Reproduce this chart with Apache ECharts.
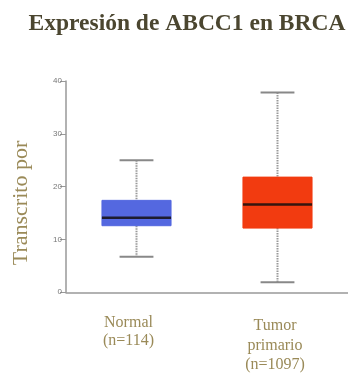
<!DOCTYPE html>
<html>
<head>
<meta charset="utf-8">
<script src="https://cdn.jsdelivr.net/npm/echarts@6/dist/echarts.min.js"></script>
<style>html,body{margin:0;padding:0;background:#fff}#c{width:348px;height:373px}</style>
</head>
<body>
<div id="c"></div>
<script>
var categories = ['Normal\n(n=114)', 'Tumor\nprimario\n(n=1097)'];
var whiskerLow = [6.7, 1.9];
var q1 = [12.6, 12.15];
var median = [14.1, 16.6];
var q3 = [17.4, 21.8];
var whiskerHigh = [25.0, 37.8];
var boxColors = ['#5468e0', '#f23b10'];
var yTicks = [0, 10, 20, 30, 40];

var data = categories.map(function (c, i) {
  return [i, whiskerLow[i], q1[i], median[i], q3[i], whiskerHigh[i]];
});

var chart = echarts.init(document.getElementById('c'));
chart.setOption({
  animation: false,
  title: {
    text: 'Expresión de ABCC1 en BRCA',
    left: 182, top: 7, textAlign: 'center',
    textStyle: { fontFamily: 'Liberation Serif', fontWeight: 'bold', fontSize: 23.5, color: '#4b4630' }
  },
  graphic: [{
    type: 'text',
    x: 21, y: 203,
    rotation: Math.PI / 2,
    style: {
      text: 'Transcrito por',
      font: '22px "Liberation Serif"',
      fill: '#9a8a58',
      textAlign: 'center',
      textVerticalAlign: 'middle'
    }
  }],
  grid: { left: 66, top: 81, width: 284, height: 215 },
  xAxis: {
    type: 'category',
    data: categories,
    axisLine: { lineStyle: { color: '#999', width: 1.5 } },
    axisTick: { show: false },
    axisLabel: {
      interval: 0,
      margin: 22,
      formatter: function (v, i) { return i === 0 ? '{a|' + v.split('\n').join('}\n{a|') + '}' : '{b|' + v.split('\n').join('}\n{b|') + '}'; },
      rich: {
        a: { fontFamily: 'Liberation Serif', fontSize: 16, color: '#9a8a58', lineHeight: 18, padding: [0, 16, 0, 0] },
        b: { fontFamily: 'Liberation Serif', fontSize: 16, color: '#9a8a58', lineHeight: 19.5, padding: [4, 5, 0, 0] }
      }
    }
  },
  yAxis: {
    type: 'value', min: 0, max: 40, interval: 10,
    axisLine: { show: true, lineStyle: { color: '#999', width: 1.5 } },
    axisTick: { show: true, length: 6, lineStyle: { color: '#999' } },
    axisLabel: { fontSize: 8, color: '#777', margin: 4, fontFamily: 'Liberation Sans',
      formatter: function (v) { return yTicks.indexOf(v) >= 0 ? String(v) : ''; } },
    splitLine: { show: false }
  },
  series: [{
    type: 'custom',
    data: data,
    encode: { x: 0, y: [1, 2, 3, 4, 5] },
    renderItem: function (params, api) {
      var i = api.value(0);
      var pLow = api.coord([i, api.value(1)]);
      var pQ1 = api.coord([i, api.value(2)]);
      var pMed = api.coord([i, api.value(3)]);
      var pQ3 = api.coord([i, api.value(4)]);
      var pHigh = api.coord([i, api.value(5)]);
      var bw = api.size([1, 0])[0] * 0.49;
      var cw = bw * 0.49;
      var x = pQ1[0];
      var col = boxColors[i];
      var dash = { stroke: '#9a9a9a', lineWidth: 2, lineDash: [1.5, 1] };
      var cap = { stroke: '#888', lineWidth: 2 };
      return {
        type: 'group',
        children: [
          { type: 'line', shape: { x1: x, y1: pHigh[1], x2: x, y2: pQ3[1] }, style: dash },
          { type: 'line', shape: { x1: x, y1: pQ1[1], x2: x, y2: pLow[1] }, style: dash },
          { type: 'line', shape: { x1: x - cw / 2, y1: pHigh[1], x2: x + cw / 2, y2: pHigh[1] }, style: cap },
          { type: 'line', shape: { x1: x - cw / 2, y1: pLow[1], x2: x + cw / 2, y2: pLow[1] }, style: cap },
          { type: 'rect', shape: { x: x - bw / 2, y: pQ3[1], width: bw, height: pQ1[1] - pQ3[1] },
            style: { fill: col, stroke: col, lineWidth: 1, opacity: 1 } },
          { type: 'line', shape: { x1: x - bw / 2, y1: pMed[1], x2: x + bw / 2, y2: pMed[1] },
            style: { stroke: 'rgba(20,15,15,0.85)', lineWidth: 2.5 } }
        ]
      };
    }
  }]
});
</script>
</body>
</html>
